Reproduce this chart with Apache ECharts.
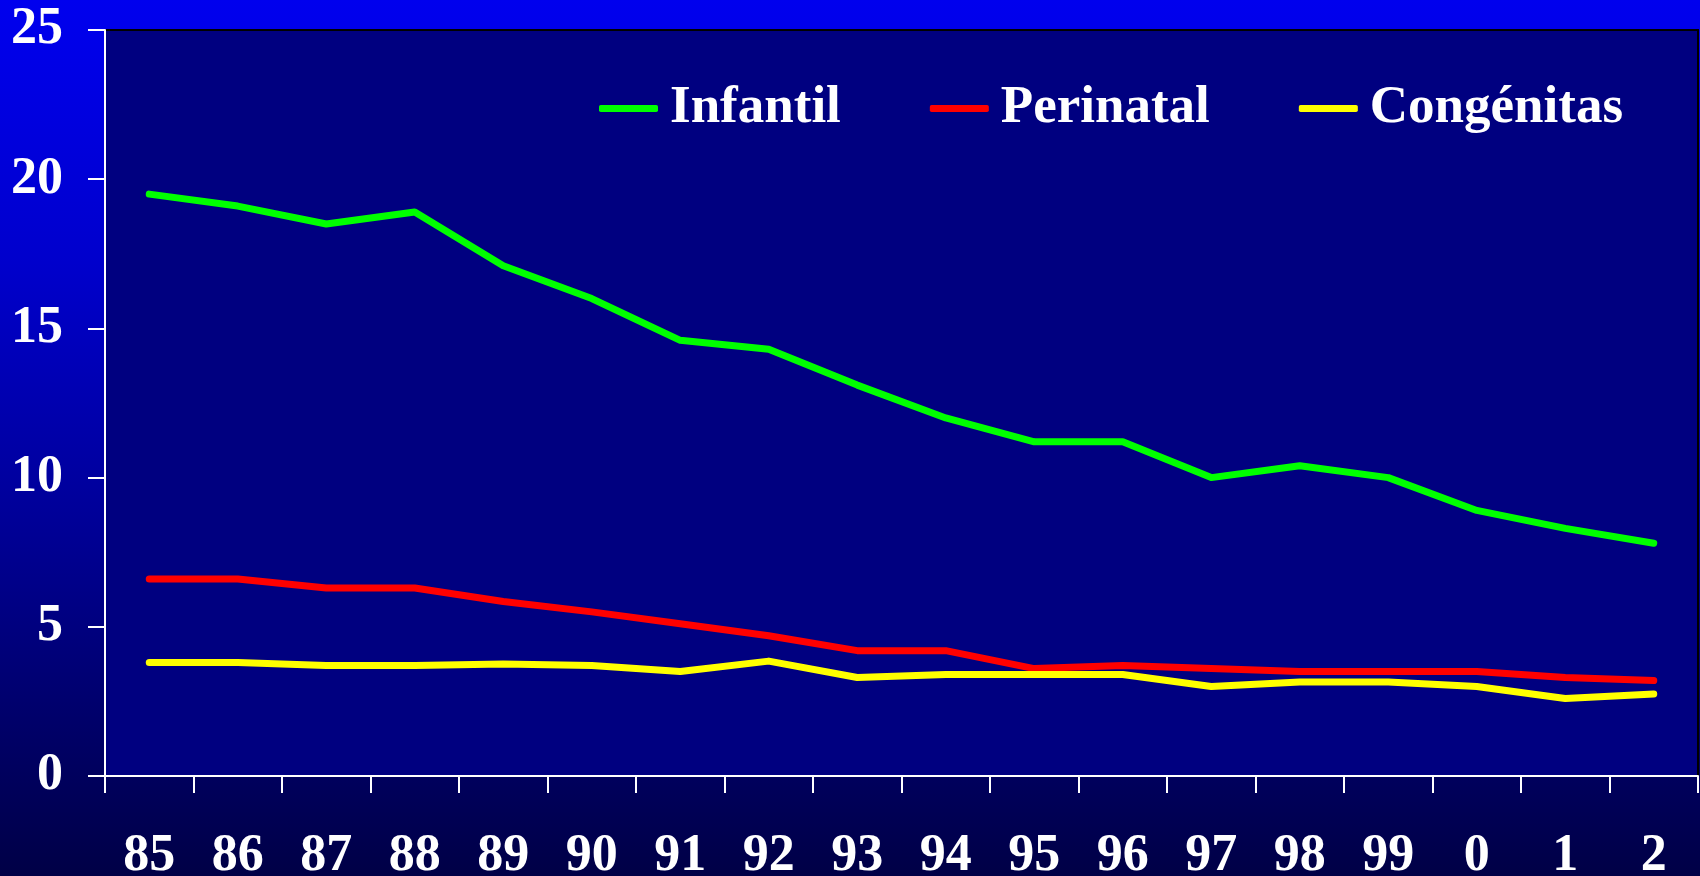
<!DOCTYPE html>
<html>
<head>
<meta charset="utf-8">
<script src="https://cdn.jsdelivr.net/npm/echarts@6/dist/echarts.min.js"></script>
<style>
    html, body { margin: 0; padding: 0; }
    #chart { width: 1700px; height: 876px; }
</style>
</head>
<body>
<div id="chart"></div>
<script>
// years on the x axis
const years = ["85", "86", "87", "88", "89", "90", "91", "92", "93", "94", "95", "96", "97", "98", "99", "0", "1", "2"];
const infantil = [19.5, 19.1, 18.5, 18.9, 17.1, 16.0, 14.6, 14.3, 13.1, 12.0, 11.2, 11.2, 10.0, 10.4, 10.0, 8.9, 8.3, 7.8];
const perinatal = [6.6, 6.6, 6.3, 6.3, 5.85, 5.5, 5.1, 4.7, 4.2, 4.2, 3.6, 3.7, 3.6, 3.5, 3.5, 3.5, 3.3, 3.2];
const congenitas = [3.8, 3.8, 3.7, 3.7, 3.75, 3.7, 3.5, 3.85, 3.3, 3.4, 3.4, 3.4, 3.0, 3.15, 3.15, 3.0, 2.6, 2.75];

const font = "'Liberation Serif', 'Times New Roman', serif";

let chart = echarts.init(document.getElementById("chart"));
chart.setOption({
    animation: false,
    backgroundColor: {
        type: "linear", x: 0, y: 0, x2: 0, y2: 1,
        colorStops: [
            { offset: 0, color: "#0000EE" },
            { offset: 0.3, color: "#0000CC" },
            { offset: 0.6, color: "#000096" },
            { offset: 1, color: "#000046" }
        ]
    },
    grid: {
        show: true,
        left: 105,
        right: 2,
        top: 30,
        bottom: 100,
        outerBoundsMode: "none",
        containLabel: false,
        backgroundColor: "#000080",
        borderColor: "#000",
        borderWidth: 2
    },
    legend: {
        left: 594,
        top: 77,
        itemWidth: 59,
        itemHeight: 7,
        itemGap: 89,
        icon: "roundRect",
        textStyle: {
            color: "#fff",
            fontFamily: font,
            fontWeight: "bold",
            fontSize: 53,
            padding: [0, 0, 0, 7]
        },
        data: ["Infantil", "Perinatal", "Congénitas"]
    },
    xAxis: {
        type: "category",
        data: years,
        boundaryGap: true,
        axisLine: { show: true, lineStyle: { color: "#fff", width: 2 } },
        axisTick: { show: true, inside: false, length: 17, lineStyle: { color: "#fff", width: 2 } },
        axisLabel: {
            color: "#fff",
            fontFamily: font,
            fontWeight: "bold",
            fontSize: 52,
            margin: 55,
            interval: 0
        }
    },
    yAxis: {
        type: "value",
        min: 0,
        max: 25,
        interval: 5,
        axisLine: { show: true, lineStyle: { color: "#fff", width: 2 } },
        axisTick: { show: true, length: 17, lineStyle: { color: "#fff", width: 2 } },
        splitLine: { show: false },
        axisLabel: {
            color: "#fff",
            fontFamily: font,
            fontWeight: "bold",
            fontSize: 52,
            margin: 42
        }
    },
    series: [
        {
            name: "Infantil", type: "line", data: infantil,
            showSymbol: false, color: "#00FF00",
            lineStyle: { width: 7, cap: "round", join: "round" }
        },
        {
            name: "Perinatal", type: "line", data: perinatal,
            showSymbol: false, color: "#FF0000",
            lineStyle: { width: 7, cap: "round", join: "round" }
        },
        {
            name: "Congénitas", type: "line", data: congenitas,
            showSymbol: false, color: "#FFFF00",
            lineStyle: { width: 7, cap: "round", join: "round" }
        }
    ]
});
</script>
</body>
</html>
